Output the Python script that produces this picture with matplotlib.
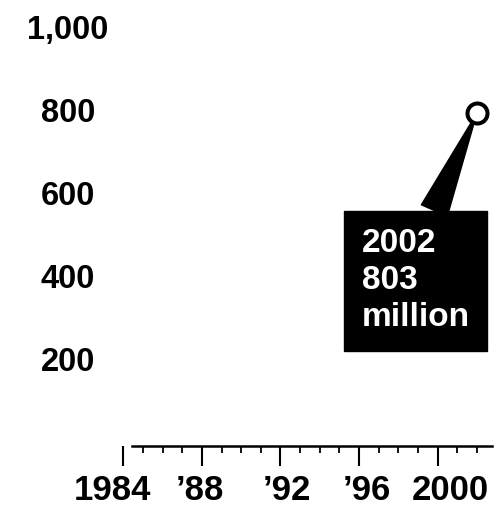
import matplotlib
matplotlib.use("Agg")
import matplotlib.pyplot as plt
from matplotlib.transforms import ScaledTranslation

# Data
point_years = [2002]
point_values = [803]
callout_text = "2002\n803\nmillion"

y_ticks = [200, 400, 600, 800, 1000]
y_labels = ["200", "400", "600", "800", "1,000"]

x_major = [1984, 1988, 1992, 1996, 2000]
x_labels = ["1984", "\u201988", "\u201992", "\u201996", "2000"]
x_minor = list(range(1985, 2003))
# horizontal nudges of the year labels (pixels), as printed
x_label_nudge = [-11, -2, 6, 8, 13]

plt.rcParams['font.family'] = ['Liberation Sans', 'DejaVu Sans']
plt.rcParams['font.weight'] = 'bold'

fig = plt.figure(figsize=(5.03, 5.08), dpi=100)
ax = fig.add_axes([0.2451, 0.122, 0.7324, 0.8163])
ax.set_xlim(1984, 2002.75)
ax.set_ylim(0, 1000)

# Point with callout box
ax.plot(point_years, point_values, marker='o', markersize=14.4,
        markerfacecolor='white', markeredgecolor='black',
        markeredgewidth=2.9, linestyle='none', zorder=5, clip_on=False)
ax.annotate(callout_text, xy=(point_years[0], point_values[0]),
            xytext=(-83, -83), textcoords='offset points',
            ha='left', va='top', color='white', fontsize=24,
            fontweight='bold', linespacing=1.25,
            bbox=dict(boxstyle='square,pad=0.52', fc='black', ec='black'),
            arrowprops=dict(arrowstyle='wedge,tail_width=0.85',
                            fc='black', ec='black', shrinkA=0, shrinkB=0,
                            relpos=(0.6, 1.0)),
            zorder=4, annotation_clip=False)

# Axes styling
for side in ['top', 'right', 'left']:
    ax.spines[side].set_visible(False)
ax.spines['bottom'].set_linewidth(1.8)
ax.spines['bottom'].set_bounds(1984.43, 2002.75)

ax.set_xticks(x_major)
ax.set_xticklabels(x_labels, fontsize=25, fontweight='bold')
ax.set_xticks(x_minor, minor=True)
ax.tick_params(axis='x', which='major', length=14.4, width=1.5, pad=6,
               direction='out')
ax.tick_params(axis='x', which='minor', length=5, width=1.3,
               direction='out')
for lab, dx in zip(ax.get_xticklabels(), x_label_nudge):
    lab.set_transform(lab.get_transform() +
                      ScaledTranslation(dx / 100, 0, fig.dpi_scale_trans))

ax.set_yticks(y_ticks)
ax.set_yticklabels(y_labels, fontsize=23.5, fontweight='bold')
ax.tick_params(axis='y', length=0, pad=40)
shift = ScaledTranslation(0, 4 / 100, fig.dpi_scale_trans)
for lab in ax.get_yticklabels():
    lab.set_horizontalalignment('center')
    lab.set_transform(lab.get_transform() + shift)

fig.savefig("out.png", dpi=100)
